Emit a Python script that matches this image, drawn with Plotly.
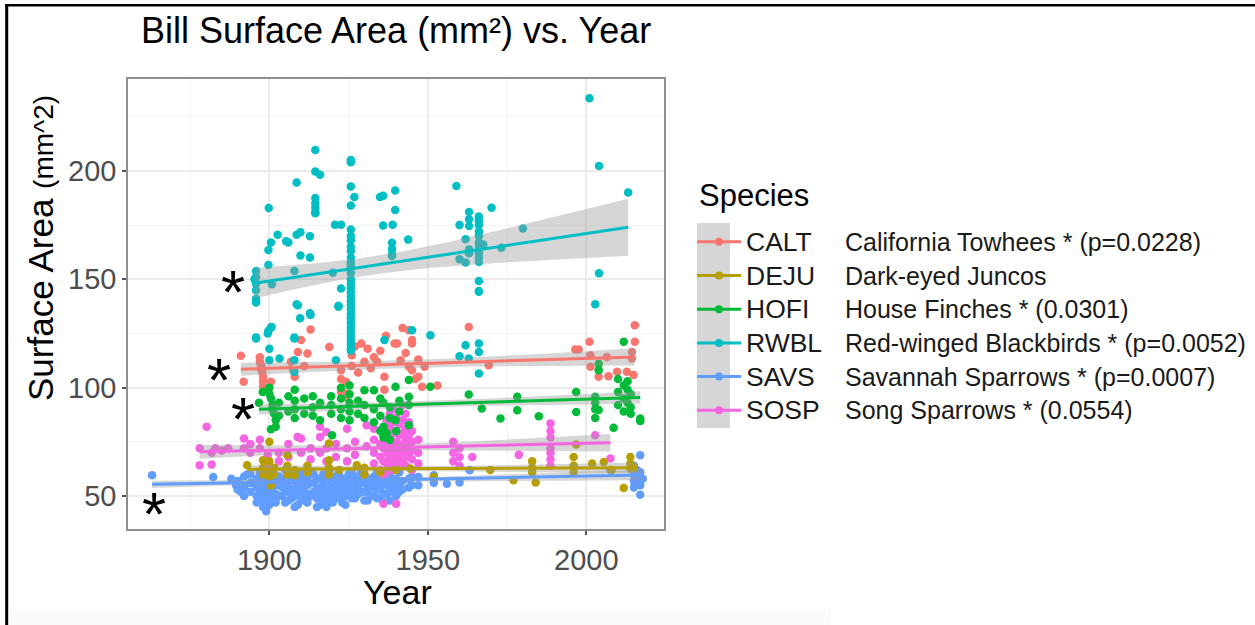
import numpy as np
import plotly.graph_objects as go

W, H = 1255, 625
FONT = "Liberation Sans, Arial, Helvetica, sans-serif"

species = ["CALT", "DEJU", "HOFI", "RWBL", "SAVS", "SOSP"]
descriptions = [
    "California Towhees * (p=0.0228)",
    "Dark-eyed Juncos",
    "House Finches * (0.0301)",
    "Red-winged Blackbirds * (p=0.0052)",
    "Savannah Sparrows * (p=0.0007)",
    "Song Sparrows * (0.0554)",
]
colors = ["#F8766D", "#B79F00", "#00BA38", "#00BFC4", "#619CFF", "#F564E3"]

x_ticks = [1900, 1950, 2000]
x_minor = [1875, 1925, 1975]
y_ticks = [50, 100, 150, 200]
y_minor = [75, 125, 175, 225]

# ---- CALT ----
calt_year = [1891, 1891.9, 1897, 1897, 1897.5, 1897.5, 1898, 1898, 1898, 1897.2, 1897.8,
             1900.5, 1906.8, 1907.5, 1908, 1911, 1909, 1910, 1912, 1913, 1918.9,
             1922.6, 1922.6, 1922.6, 1924.2, 1924.2, 1924, 1926, 1926, 1928, 1930, 1932, 1927,
             1929, 1931, 1933, 1934, 1935, 1936.8, 1936.3, 1936.3, 1939.5, 1940.3,
             1941.4, 1942, 1943, 1944, 1944, 1945, 1945, 1945, 1946, 1947, 1947, 1948.2, 1949, 1953,
             1962.9, 1969.2, 1996.5, 1997.6, 2001, 2001.3, 2001.3, 2003.9, 2006.5, 2007, 2009.7,
             2012.8, 2014.4, 2014.4, 2014.9, 2015.3, 2015.3]
calt_area = [114.7, 102.7, 114, 112, 110, 108, 105, 103, 100.5, 111, 107,
             102.7, 112, 108, 105, 110, 116.5, 122, 115.8, 126.8, 118.8,
             108, 104, 98, 102.7, 97.3, 95.6, 110, 115, 107, 112, 109, 119,
             120.4, 118, 114, 112, 117, 124, 105, 99, 120.4, 120.4,
             112.7, 127.5, 116, 109.6, 126.5, 122, 120.4, 108, 104, 105, 113, 100.4, 109.6, 101,
             128, 110.4, 117.6, 117.6, 121.2, 115, 109.6, 105, 114.2, 105.3, 107.3,
             107.3, 116.5, 113.5, 105.8, 128.8, 121.2]

# ---- DEJU ----
deju_year = [1893, 1898, 1898, 1898, 1898.5, 1900, 1900, 1900, 1900, 1900.5, 1901.5, 1901.5,
             1905.7, 1905.7, 1905.7, 1908, 1908, 1912, 1912, 1918.8, 1918.8, 1918.8, 1918.8,
             1922, 1927.6, 1930, 1930, 1935, 1940, 1944.5, 1951.9, 1969.7, 1977,
             1982.9, 1982.9, 1982.9, 1984, 1996, 1996, 1996, 1996.8, 2001.8, 2005.5, 2008,
             2011.8, 2013.9, 2013.9, 2013.9, 2015]
deju_area = [64.2, 66.5, 63, 60, 62, 75, 66, 61, 59, 55, 63, 60,
             69, 64, 60, 59.6, 62, 61, 64, 74.2, 66.5, 63, 60,
             62, 64.2, 63, 60, 61, 62, 62.7, 58.8, 62, 57.3,
             66, 63, 61, 56.2, 68, 64, 61, 73.8, 65, 65.7, 62,
             53.7, 68, 65, 62.7, 63]

# ---- HOFI ----
hofi_year = [1896.7, 1897.9, 1900, 1900, 1900.5, 1901, 1901, 1901.5, 1902, 1902, 1900.5,
             1903, 1903, 1906, 1906, 1908, 1908, 1908, 1908, 1911, 1911,
             1913.7, 1913.7, 1913.7, 1916, 1916, 1919.5, 1919.5, 1919.5, 1919.8,
             1922.6, 1922.6, 1922.6, 1922.6, 1925.3, 1925.3, 1925.3, 1925.3, 1925.3,
             1928, 1928, 1930, 1930, 1930, 1933, 1933, 1933, 1935, 1935, 1935,
             1936, 1936, 1936, 1937, 1938, 1938, 1938, 1939.8, 1939.8, 1940, 1941, 1941,
             1944, 1944, 1944, 1944, 1950.8, 1962.9, 1967, 1972.9, 1978.2, 1978.2, 1985,
             1996.8, 1996.8, 2002.8, 2002.8, 2002.8, 2002.8, 2003.9, 2003.9, 2003.9, 2008.6,
             2010, 2010, 2010, 2011.8, 2011.8, 2011.8, 2011.8, 2013, 2013, 2013,
             2014, 2014, 2014, 2017, 2017]
hofi_area = [93, 98, 100, 97, 95, 92, 90, 88, 85, 82, 80.8,
             93, 87, 96, 89, 99, 94, 90, 86, 95, 88,
             96, 91, 87, 93, 85, 96, 92, 88, 78,
             100, 95, 90, 86, 101, 97, 93, 89, 85,
             94, 88, 98.8, 92, 86, 98.8, 90, 84, 95, 87, 80,
             93, 82, 77, 79, 91, 86, 76, 100.4, 85, 80, 89, 94,
             103.5, 95.8, 92, 82.7, 100.4, 96.8, 90.4, 85.8, 95.8, 89.6, 86.8,
             98, 88.8, 95.8, 93, 90, 86, 111, 108, 89.7, 81.5,
             104, 98, 92, 121.2, 101, 95, 89, 99, 93, 103,
             97, 91, 88, 85.8, 84.6]

# ---- RWBL ----
rwbl_year = [1895.3, 1895.8, 1895.8, 1895.8, 1895.8, 1895.8, 1895.8, 1895.8, 1895.8,
             1899.8, 1900.5, 1899.7, 1899.7, 1900.8, 1900.7, 1900.5, 1899.7, 1899.5, 1900, 1900,
             1902.6, 1903.2, 1905.3, 1906, 1907.9, 1907.9, 1907.9, 1907.9, 1907.9,
             1908.6, 1908.6, 1908.6, 1909, 1909.7, 1909.8, 1909.8, 1912.8, 1912.8, 1912.8, 1913,
             1914.5, 1914.5, 1914.5, 1914.5, 1914.5, 1914.5, 1914.5, 1916, 1920, 1920.7, 1922.6, 1922.6,
             1921, 1921.8, 1921.8,
             1925.7, 1925.7, 1925.7, 1925.7, 1925.7, 1925.7, 1925.7, 1925.7, 1925.7, 1925.7, 1925.7,
             1925.7, 1925.7, 1925.7, 1925.7, 1925.7, 1925.7, 1925.7, 1925.7, 1925.7, 1925.7, 1925.7,
             1925.7, 1925.7, 1925.7, 1925.7, 1925.7, 1925.7, 1925.7, 1925.7, 1925.7, 1925.7,
             1926.8, 1934.9, 1935.9, 1935.9, 1936.3, 1938.7, 1938.7, 1938.7, 1938.7, 1938.9,
             1939.7, 1939.7, 1943.8, 1945, 1950.8, 1959, 1960, 1960, 1960, 1961.9, 1961.9, 1961.9,
             1962.9, 1963, 1963, 1963, 1963, 1963,
             1966.1, 1966.1, 1966.1, 1966.1, 1966.1, 1966.1, 1966.1, 1966.1, 1966.1, 1966.1,
             1966.1, 1966.1, 1966.1, 1966.1, 1966.1, 1966.1,
             1967.5, 1970.1, 1973.2, 1980, 2001, 2002.8, 2004, 2004, 2013.2]
rwbl_area = [150, 153.8, 151, 148, 145, 141, 139.3, 123.2, 122.7,
             182.9, 167, 163.5, 156.6, 147.7, 128, 127.8, 126.3, 125, 118, 112.7,
             170.6, 113.5, 167.6, 167, 153.8, 123.2, 122.7, 112.7, 107.3,
             194.6, 170.6, 138.5, 138, 132, 171.7, 161, 169.9, 160, 134.3, 133.5,
             209.6, 199.7, 187.5, 185, 183, 181, 180.5, 198.2, 153, 175.2, 175.2, 145.7,
             112.7, 137.8, 137.3,
             205, 204, 192.8, 184, 173, 170, 168, 165, 163, 160, 158,
             157, 156, 153, 150, 148, 146, 144, 142, 140, 138, 136,
             134, 132, 130, 128, 126, 124, 122, 120, 118, 117,
             188, 188, 188.5, 174.8, 122, 166.8, 164, 161.5, 160.7, 175.2,
             191, 182, 168.3, 126.5, 124.2, 193, 175, 159.2, 114.5, 168.5, 157.7, 119.6,
             113.5, 181, 177.7, 174.6, 163.8, 162,
             179, 177, 175, 172, 170, 167, 165, 162, 160, 158,
             149.2, 144.6, 144.2, 120.4, 116.5, 106.5,
             166, 183, 164.6, 173.4, 233.5, 138.5, 202.3, 152.8, 190]

# ---- SAVS ----
savs_year = [1863, 1882.3, 1888, 1889.5, 1891, 1893, 1895,
             1897, 1897, 1897, 1897, 1899, 1899, 1899, 1899, 1901, 1901, 1901, 1901,
             1903, 1903, 1903, 1905, 1905, 1905, 1905, 1907, 1907, 1907,
             1909, 1909, 1909, 1909, 1911, 1911, 1911, 1913, 1913, 1913,
             1915, 1915, 1915, 1915, 1917, 1917, 1917, 1917, 1919, 1919, 1919, 1919,
             1921, 1921, 1921, 1923, 1923, 1923, 1925, 1925, 1925, 1927, 1927, 1927,
             1929, 1929, 1929, 1931, 1931, 1931, 1933, 1933, 1933, 1935, 1935, 1935,
             1937, 1937, 1937, 1939, 1939, 1941, 1941, 1941, 1944, 1944, 1947, 1947,
             1951.9, 1951.9, 1956, 1960, 1963.2, 2007.6,
             2015, 2015, 2015, 2015, 2016, 2016, 2016, 2017, 2017, 2017, 2017, 2017.8,
             1890, 1890, 1892, 1892, 1892, 1894, 1894, 1894,
             1896, 1896, 1896, 1896, 1898, 1898, 1898, 1898, 1898,
             1900, 1900, 1900, 1900, 1900, 1902, 1902, 1902, 1902, 1904, 1904, 1904,
             1906, 1906, 1906, 1906, 1908, 1908, 1908, 1908, 1910, 1910, 1910, 1910,
             1912, 1912, 1912, 1912, 1914, 1914, 1914, 1916, 1916, 1916, 1916,
             1918, 1918, 1918, 1918, 1918, 1920, 1920, 1920, 1920, 1922, 1922, 1922, 1922,
             1924, 1924, 1924, 1924, 1926, 1926, 1926, 1926, 1928, 1928, 1928,
             1930, 1930, 1930, 1930, 1932, 1932, 1932, 1934, 1934, 1934, 1934,
             1936, 1936, 1936, 1936, 1938, 1938, 1938, 1938, 1940, 1940, 1940,
             1942, 1942, 1945, 1945]
savs_area = [59.6, 58.8, 58, 55, 52, 60, 56,
             57, 53, 49, 61, 43, 55, 51, 58, 60, 54, 48, 52,
             56, 50, 59, 62, 55, 47, 52, 58, 53, 49,
             60, 55, 51, 46, 57, 52, 48, 61, 56, 50,
             58, 53, 45, 49, 60, 55, 51, 47, 57, 52, 48, 62,
             59, 54, 50, 56, 52, 47, 60, 55, 51, 58, 53, 49,
             61, 56, 52, 57, 53, 48, 59, 55, 50, 58, 54, 49,
             60, 55, 51, 57, 53, 61, 56, 52, 58, 54, 58.8, 55,
             59.6, 56, 55.7, 56.2, 61.9, 62,
             64, 60, 57, 54, 62, 59, 56, 68.8, 61, 55, 50.6, 58,
             57, 53, 59, 54, 50, 56, 52, 60,
             58, 54, 50, 47, 60, 56, 52, 48, 45,
             61, 57, 53, 49, 46, 59, 55, 51, 47, 58, 54, 50,
             60, 56, 52, 48, 57, 53, 50, 45, 61, 58, 54, 49,
             59, 55, 51, 47, 60, 56, 52, 58, 54, 50, 46,
             61, 57, 53, 49, 45, 59, 55, 51, 47, 60, 57, 53, 49,
             58, 54, 50, 46, 61, 57, 53, 49, 59, 55, 51,
             60, 56, 52, 48, 58, 54, 50, 61, 57, 53, 49,
             59, 55, 51, 47, 60, 56, 52, 48, 58, 54, 50,
             57, 53, 59, 55]

# ---- SOSP ----
sosp_year = [1878, 1878, 1880.2, 1881.8, 1881.8, 1883, 1885, 1887, 1892, 1892, 1894, 1894,
             1897, 1897, 1899.5, 1899.5, 1899.5, 1903, 1903, 1906, 1906, 1908.9, 1910, 1910,
             1913, 1913, 1916, 1916, 1916, 1918, 1918, 1918, 1921, 1921, 1924.5, 1924.5, 1924.5,
             1927, 1927, 1930.7, 1930.7, 1933, 1933, 1933, 1933, 1935, 1935, 1935, 1935,
             1936, 1936, 1936, 1936, 1936, 1937, 1937, 1937, 1937, 1937, 1937,
             1938, 1938, 1938, 1938, 1938, 1938, 1939, 1939, 1939, 1939, 1939, 1939, 1939,
             1940, 1940, 1940, 1940, 1940, 1940, 1940, 1941, 1941, 1941, 1941, 1941,
             1942, 1942, 1942, 1942, 1942, 1942, 1943, 1943, 1943, 1943, 1943, 1943,
             1944, 1944, 1944, 1944, 1945, 1945, 1945, 1945, 1945, 1947, 1947, 1947,
             1958, 1958, 1958, 1960, 1960, 1960, 1964, 1978.7,
             1988.7, 1988.7, 1988.7, 1988.7, 1988.7, 1988.7, 1988.7, 2002.8, 2007.6]
sosp_area = [64.2, 72, 82, 64.5, 70, 72, 71, 72, 76.5, 72, 74, 70,
             72, 76, 69, 64, 67, 70, 66, 74, 68, 77.3, 76.5, 70,
             72, 67, 82, 77.3, 70, 79.6, 72, 66, 74, 68, 81, 72, 66,
             75, 69, 82.7, 73, 81, 76, 70, 65, 80.4, 74, 68, 62,
             46.5, 78, 72, 66, 60, 85, 80, 75, 70, 65, 61,
             88, 82, 77, 72, 68, 63, 90, 84, 79, 74, 70, 66, 62,
             46.5, 86, 80, 75, 71, 67, 63, 83, 78, 73, 69, 65,
             92, 85, 79, 74, 70, 66, 88, 81, 76, 72, 68, 64,
             84, 78, 73, 69, 80, 75, 71, 67, 62, 76, 70, 65,
             75, 70, 66, 72, 68, 64, 68, 69,
             83.5, 80, 77, 72, 70, 67, 64, 78, 67.3]

years = [calt_year, deju_year, hofi_year, rwbl_year, savs_year, sosp_year]
areas = [calt_area, deju_area, hofi_area, rwbl_area, savs_area, sosp_area]

# fitted trend values read at the first and last year of each species
fit_start = [108.5, 62.3, 90.0, 148.2, 55.4, 70.4]
fit_end = [114.2, 63.0, 95.5, 174.0, 59.7, 74.6]

fig = go.Figure()

draw_order = [4, 5, 1, 0, 2, 3]
for i in draw_order:
    fig.add_trace(go.Scatter(
        x=years[i], y=areas[i], mode="markers",
        marker=dict(color=colors[i], size=8.5, line=dict(width=0)),
        showlegend=False, hoverinfo="x+y", name=species[i]))

for i in range(6):
    x = np.array(years[i], dtype=float)
    y = np.array(areas[i], dtype=float)
    x0, x1 = x.min(), x.max()
    slope = (fit_end[i] - fit_start[i]) / (x1 - x0)
    pred = fit_start[i] + slope * (x - x0)
    n = len(x)
    s = np.sqrt(np.sum((y - pred) ** 2) / (n - 2))
    xbar = x.mean()
    sxx = np.sum((x - xbar) ** 2)
    xs = np.linspace(x0, x1, 80)
    ys = fit_start[i] + slope * (xs - x0)
    half = 1.97 * s * np.sqrt(1.0 / n + (xs - xbar) ** 2 / sxx)
    fig.add_trace(go.Scatter(
        x=np.concatenate([xs, xs[::-1]]), y=np.concatenate([ys + half, (ys - half)[::-1]]),
        fill="toself", fillcolor="rgba(153,153,153,0.4)", line=dict(width=0),
        mode="lines", showlegend=False, hoverinfo="skip"))
    fig.add_trace(go.Scatter(
        x=xs, y=ys, mode="lines", line=dict(color=colors[i], width=3),
        showlegend=False, hoverinfo="skip"))

# legend entries (codes) and descriptions
for i in range(6):
    fig.add_trace(go.Scatter(
        x=[None], y=[None], mode="lines+markers",
        line=dict(color=colors[i], width=3), marker=dict(color=colors[i], size=8),
        name='<span style="font-size:26.5px">%s</span>' % species[i], legend="legend"))
for i in range(6):
    fig.add_trace(go.Scatter(
        x=[None], y=[None], mode="markers",
        marker=dict(color="rgba(0,0,0,0)", size=1, opacity=0),
        name='<span style="font-size:25px">%s</span>' % descriptions[i], legend="legend2"))


def px(v):
    return v / W


def py(v):
    return 1 - v / H


star_pos = [(1888.5, 148.0), (1884.0, 107.6), (1891.6, 89.6), (1863.6, 45.8)]
annotations = []
for sx, sy in star_pos:
    annotations.append(dict(x=sx, y=sy, xref="x", yref="y", text="*", showarrow=False,
                            font=dict(size=62, color="black", family=FONT),
                            xanchor="center", yanchor="middle", yshift=-8))
annotations += [
    dict(x=px(40), y=py(248), xref="paper", yref="paper", textangle=-90, showarrow=False,
         text='Surface Area <span style="font-size:28px">(mm^2)</span>',
         font=dict(size=35, color="black", family=FONT), xanchor="center", yanchor="middle"),
    dict(x=px(397), y=py(592), xref="paper", yref="paper", showarrow=False, text="Year",
         font=dict(size=34, color="black", family=FONT), xanchor="center", yanchor="middle"),
    dict(x=px(396), y=py(31), xref="paper", yref="paper", showarrow=False,
         text="Bill Surface Area (mm²) vs. Year",
         font=dict(size=36, color="black", family=FONT), xanchor="center", yanchor="middle"),
    dict(x=px(697), y=py(195), xref="paper", yref="paper", showarrow=False, text="Species",
         font=dict(size=31, color="black", family=FONT), xanchor="left", yanchor="middle"),
]

shapes = [
    dict(type="rect", xref="paper", yref="paper", x0=px(697), x1=px(730), y0=py(428), y1=py(223),
         fillcolor="#D6D6D6", line=dict(width=0), layer="below"),
    dict(type="rect", xref="paper", yref="paper", x0=px(9), x1=px(831), y0=py(625), y1=py(609),
         fillcolor="#FAFAFA", line=dict(width=0), layer="below"),
    dict(type="line", xref="paper", yref="paper", x0=px(6.7), x1=px(6.7), y0=0, y1=py(4),
         line=dict(color="black", width=3)),
    dict(type="line", xref="paper", yref="paper", x0=px(5.2), x1=1, y0=py(5.3), y1=py(5.3),
         line=dict(color="black", width=2.5)),
]

axis_common = dict(
    showgrid=True, gridcolor="#EBEBEB", gridwidth=1.6, zeroline=False,
    ticks="outside", ticklen=4, tickwidth=1.5, tickcolor="#555555",
    tickfont=dict(size=29, color="#4D4D4D", family=FONT),
    showline=True, mirror=True, linecolor="#8F8F8F", linewidth=1.6,
)

fig.update_layout(
    width=W, height=H, margin=dict(l=0, r=0, t=0, b=0),
    paper_bgcolor="white", plot_bgcolor="white",
    font=dict(family=FONT, color="black"),
    xaxis=dict(domain=[px(128), px(664)], range=[1855.4, 2024.5], tickvals=x_ticks,
               minor=dict(tickvals=x_minor, showgrid=True, gridcolor="#F4F4F4", gridwidth=1, ticks=""),
               **axis_common),
    yaxis=dict(domain=[py(529), py(79)], range=[34.8, 242.4], tickvals=y_ticks,
               minor=dict(tickvals=y_minor, showgrid=True, gridcolor="#F4F4F4", gridwidth=1, ticks=""),
               **axis_common),
    legend=dict(x=px(692), y=py(220), xanchor="left", yanchor="top",
                font=dict(size=23.6, color="#1A1A1A", family=FONT),
                bgcolor="rgba(0,0,0,0)", borderwidth=0, itemwidth=44, tracegroupgap=0),
    legend2=dict(x=px(805), y=py(220), xanchor="left", yanchor="top",
                 font=dict(size=23.6, color="#1A1A1A", family=FONT),
                 bgcolor="rgba(0,0,0,0)", borderwidth=0, itemwidth=30, tracegroupgap=0),
    annotations=annotations, shapes=shapes, showlegend=True,
)

fig.write_html("out.html", config={"displayModeBar": False},
               post_script="document.body.style.margin='0px';")
